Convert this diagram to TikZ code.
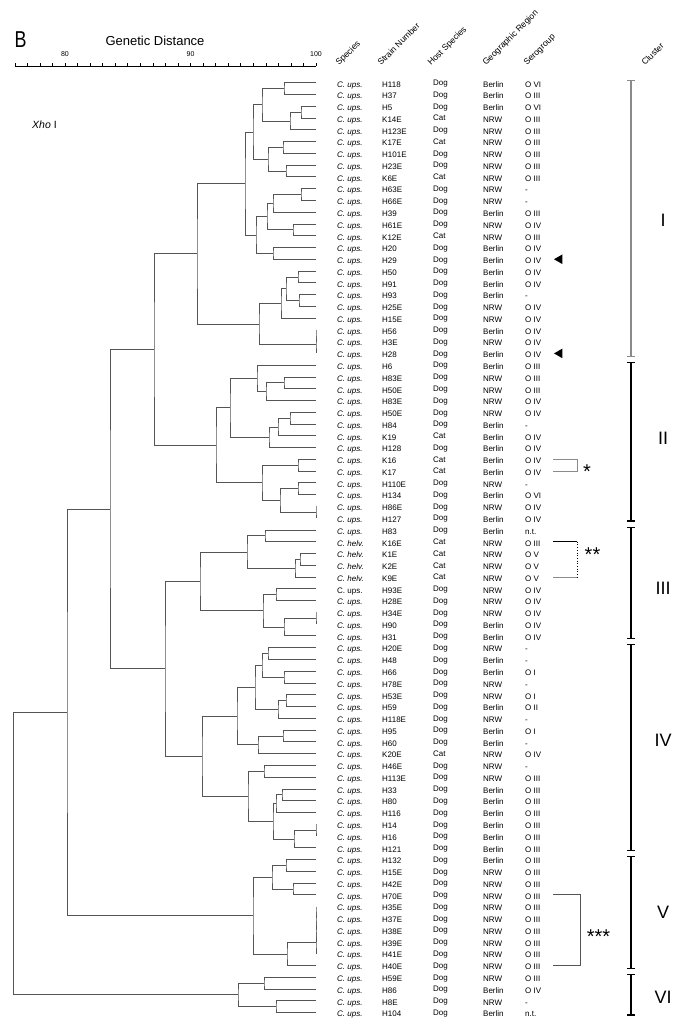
\documentclass[tikz,border=0pt]{standalone}
\usepackage{fontspec}
\setmainfont{Liberation Sans}
\usetikzlibrary{arrows.meta,calc,shapes.geometric}
\definecolor{treegray}{HTML}{555555}
\definecolor{bargray}{HTML}{8A8A8A}

% vertical position of a row (in px)
\newcommand\rowy[1]{82.7+(#1-1)*11.77}
\newcommand\cu{\textit{C. ups.}}
\newcommand\cuup{C. ups.}
\newcommand\ch{\textit{C. helv.}}

% join two children at distance x
\newcommand\clade[4]{%
  \path let \p1=($(#3)!0.5!(#4)$), \p2=(#2,0) in (\x2,\y1) coordinate (#1);
  \draw[branch] (#3) -| (#1) |- (#4);
}

\begin{document}
\begin{tikzpicture}[
    x=1pt, y=-1pt,
    branch/.style={line width=0.8pt, treegray},
    axis/.style={line width=0.9pt, black},
    tick/.style={line width=0.6pt, black},
    cell/.style={anchor=base west, inner sep=0pt, font=\fontsize{8}{9}\selectfont},
    head/.style={anchor=base west, inner sep=0pt, rotate=45, font=\fontsize{8.6}{10}\selectfont},
    numlbl/.style={inner sep=0pt, font=\fontsize{7}{8}\selectfont},
    clbar/.style={line width=1.1pt, {Bar[width=8pt]}-{Bar[width=8pt]}},
    cllbl/.style={inner sep=0pt, font=\fontsize{18}{20}\selectfont},
    brk/.style={line width=0.7pt, bargray},
    stars/.style={anchor=base, inner sep=0pt, font=\fontsize{20}{22}\selectfont},
    tri/.style={regular polygon, regular polygon sides=3, shape border rotate=90,
      fill=black, inner sep=0pt, minimum size=11pt}
  ]
  \useasboundingbox (0,0) rectangle (682,1028);

  % Title and scale
  \node[inner sep=0pt, xscale=0.78, font=\fontsize{23}{25}\selectfont] (panel) at (20.5,40) {B};
  \node[inner sep=0pt, font=\fontsize{13}{15}\selectfont] (gd) at (155,41) {Genetic Distance};
  \coordinate (ax0) at (14.8,66);
  \coordinate (ax1) at (316,66);
  \draw[axis] (ax0) -- (ax1);
  \foreach \d in {76,...,100}
    \draw[tick] ({316-(100-\d)*12.55},66) -- ++(0,-3.5);
  \foreach \d in {80,90,100}
    \node[numlbl] (num\d) at ({316-(100-\d)*12.55},54) {\d};
  \node[anchor=west, inner sep=0pt, font=\fontsize{10.5}{12}\selectfont] (enz) at (32,125) {\textit{Xho} I};

  % Column heads
  \node[head] (hsp) at (339,66) {Species};
  \node[head] (hsn) at (381,66) {Strain Number};
  \node[head] (hhs) at (431,66) {Host Species};
  \node[head] (hgr) at (486,66) {Geographic Region};
  \node[head] (hsg) at (527,66) {Serogroup};
  \node[head] (hcl) at (645,66) {Cluster};

  % Leaves
  \foreach \i in {1,...,80}
    \coordinate (L\i) at (316,{\rowy{\i}});

  % Table
  \foreach \spec/\strain/\host/\region/\sero [count=\i] in {
    \cu/H118/Dog/Berlin/O VI, \cu/H37/Dog/Berlin/O III, \cu/H5/Dog/Berlin/O VI,
    \cu/K14E/Cat/NRW/O III, \cu/H123E/Dog/NRW/O III, \cu/K17E/Cat/NRW/O III,
    \cu/H101E/Dog/NRW/O III, \cu/H23E/Dog/NRW/O III, \cu/K6E/Cat/NRW/O III,
    \cu/H63E/Dog/NRW/-, \cu/H66E/Dog/NRW/-, \cu/H39/Dog/Berlin/O III,
    \cu/H61E/Dog/NRW/O IV, \cu/K12E/Cat/NRW/O III, \cu/H20/Dog/Berlin/O IV,
    \cu/H29/Dog/Berlin/O IV, \cu/H50/Dog/Berlin/O IV, \cu/H91/Dog/Berlin/O IV,
    \cu/H93/Dog/Berlin/-, \cu/H25E/Dog/NRW/O IV, \cu/H15E/Dog/NRW/O IV,
    \cu/H56/Dog/Berlin/O IV, \cu/H3E/Dog/NRW/O IV, \cu/H28/Dog/Berlin/O IV,
    \cu/H6/Dog/Berlin/O III, \cu/H83E/Dog/NRW/O III, \cu/H50E/Dog/NRW/O III,
    \cu/H83E/Dog/NRW/O IV, \cu/H50E/Dog/NRW/O IV, \cu/H84/Dog/Berlin/-,
    \cu/K19/Cat/Berlin/O IV, \cu/H128/Dog/Berlin/O IV, \cu/K16/Cat/Berlin/O IV,
    \cu/K17/Cat/Berlin/O IV, \cu/H110E/Dog/NRW/-, \cu/H134/Dog/Berlin/O VI,
    \cu/H86E/Dog/NRW/O IV, \cu/H127/Dog/Berlin/O IV, \cu/H83/Dog/Berlin/n.t.,
    \ch/K16E/Cat/NRW/O III, \ch/K1E/Cat/NRW/O V, \ch/K2E/Cat/NRW/O V,
    \ch/K9E/Cat/NRW/O V, \cuup/H93E/Dog/NRW/O IV, \cu/H28E/Dog/NRW/O IV,
    \cu/H34E/Dog/NRW/O IV, \cu/H90/Dog/Berlin/O IV, \cu/H31/Dog/Berlin/O IV,
    \cu/H20E/Dog/NRW/-, \cu/H48/Dog/Berlin/-, \cu/H66/Dog/Berlin/O I,
    \cu/H78E/Dog/NRW/-, \cu/H53E/Dog/NRW/O I, \cu/H59/Dog/Berlin/O II,
    \cu/H118E/Dog/NRW/-, \cu/H95/Dog/Berlin/O I, \cu/H60/Dog/Berlin/-,
    \cu/K20E/Cat/NRW/O IV, \cu/H46E/Dog/NRW/-, \cu/H113E/Dog/NRW/O III,
    \cu/H33/Dog/Berlin/O III, \cu/H80/Dog/Berlin/O III, \cu/H116/Dog/Berlin/O III,
    \cu/H14/Dog/Berlin/O III, \cu/H16/Dog/Berlin/O III, \cu/H121/Dog/Berlin/O III,
    \cu/H132/Dog/Berlin/O III, \cu/H15E/Dog/NRW/O III, \cu/H42E/Dog/NRW/O III,
    \cu/H70E/Dog/NRW/O III, \cu/H35E/Dog/NRW/O III, \cu/H37E/Dog/NRW/O III,
    \cu/H38E/Dog/NRW/O III, \cu/H39E/Dog/NRW/O III, \cu/H41E/Dog/NRW/O III,
    \cu/H40E/Dog/NRW/O III, \cu/H59E/Dog/NRW/O III, \cu/H86/Dog/Berlin/O IV,
    \cu/H8E/Dog/NRW/-, \cu/H104/Dog/Berlin/n.t.} {
    \node[cell] (sp\i) at (337,{\rowy{\i}+4.3}) {\spec};
    \node[cell] (sn\i) at (382,{\rowy{\i}+4.3}) {\strain};
    \node[cell] (hs\i) at (433,{\rowy{\i}+2.8}) {\host};
    \node[cell] (gr\i) at (483,{\rowy{\i}+4.3}) {\region};
    \node[cell] (sg\i) at (525,{\rowy{\i}+4.3}) {\sero};
  }

  % Cluster I
  \clade{a}{284}{L1}{L2}
  \clade{b}{301}{L3}{L4}
  \clade{c}{290}{b}{L5}
  \clade{d}{262}{a}{c}
  \clade{e}{283}{L6}{L7}
  \clade{f}{286}{L8}{L9}
  \clade{g}{268}{e}{f}
  \clade{h}{253}{d}{g}
  \clade{i}{301}{L10}{L11}
  \clade{j}{273}{i}{L12}
  \clade{k}{293}{L13}{L14}
  \clade{l}{267}{j}{k}
  \clade{m}{273}{L15}{L16}
  \clade{n}{256}{l}{m}
  \clade{o}{245}{h}{n}
  \clade{q}{298}{L17}{L18}
  \clade{r}{299}{L19}{L20}
  \clade{s}{286}{q}{r}
  \clade{t}{281}{s}{L21}
  \clade{pa}{316}{L22}{L23}
  \clade{pb}{316}{pa}{L24}
  \clade{u}{259}{t}{pb}
  \clade{p}{197}{o}{u}

  % Cluster II
  \clade{y3}{284}{L26}{L27}
  \clade{y2}{266}{y3}{L28}
  \clade{y1}{257}{L25}{y2}
  \clade{z3}{290}{L29}{L30}
  \clade{z2}{278}{z3}{L31}
  \clade{z1}{269}{z2}{L32}
  \clade{x1}{230}{y1}{z1}
  \clade{aa}{298}{L33}{L34}
  \clade{cc}{298}{L35}{L36}
  \clade{dd}{316}{L37}{L38}
  \clade{bb}{280}{cc}{dd}
  \clade{x2}{262}{aa}{bb}
  \clade{w}{216}{x1}{x2}
  \clade{v}{154}{p}{w}

  % Cluster III
  \clade{gg}{265}{L39}{L40}
  \clade{jj}{300}{L41}{L42}
  \clade{ii}{295}{jj}{L43}
  \clade{hh}{247}{gg}{ii}
  \clade{mm}{276}{L44}{L45}
  \clade{oo}{316}{L46}{L47}
  \clade{nn}{284}{oo}{L48}
  \clade{ll}{263}{mm}{nn}
  \clade{kk}{200}{hh}{ll}

  % Cluster IV
  \clade{uu}{268}{L49}{L50}
  \clade{vv}{284}{L51}{L52}
  \clade{tt}{262}{uu}{vv}
  \clade{xx}{286}{L53}{L54}
  \clade{ww}{278}{xx}{L55}
  \clade{ss}{255}{tt}{ww}
  \clade{zz}{283}{L56}{L57}
  \clade{yy}{258}{zz}{L58}
  \clade{rr}{237}{ss}{yy}
  \clade{ba}{264}{L59}{L60}
  \clade{ae}{282}{L61}{L62}
  \clade{ad}{276}{ae}{L63}
  \clade{bc}{316}{L64}{L65}
  \clade{af}{294}{bc}{L66}
  \clade{ac}{273}{ad}{af}
  \clade{ab}{248}{ba}{ac}
  \clade{qq}{202}{rr}{ab}
  \clade{pp}{165}{kk}{qq}
  \clade{ee}{110}{v}{pp}

  % Cluster V
  \clade{aj}{286}{L67}{L68}
  \clade{ak}{293}{L69}{L70}
  \clade{ai}{272}{aj}{ak}
  \clade{pc}{316}{L71}{L72}
  \clade{pd}{316}{pc}{L73}
  \clade{pe}{316}{pd}{L74}
  \clade{pf}{316}{pe}{L75}
  \clade{al}{287}{pf}{L76}
  \clade{ah}{253}{ai}{al}
  \clade{ag}{67}{ee}{ah}

  % Cluster VI and root
  \clade{an}{264}{L77}{L78}
  \clade{ao}{276}{L79}{L80}
  \clade{am}{238}{an}{ao}
  \clade{root}{13.5}{ag}{am}

  % Marked strains
  \node[tri] (arr16) at (559.5,{\rowy{16}}) {};
  \node[tri] (arr24) at (559.5,{\rowy{24}}) {};

  \coordinate (s1) at (553,{\rowy{33}});
  \coordinate (s2) at (553,{\rowy{34}});
  \draw[brk] (s1) -- ++(24,0) |- (s2);
  \node[stars] (st1) at (587,478) {*};

  \coordinate (h1) at (553,{\rowy{40}});
  \coordinate (h2) at (553,{\rowy{43}});
  \draw[brk, black] (h1) -- ++(24,0) coordinate (h1r);
  \draw[brk, black, dotted] (h1r) -- (h1r |- h2);
  \draw[brk] (h2) -- ++(24,0);
  \node[stars] (st2) at (592.5,561.5) {**};

  \coordinate (t1) at (553,{\rowy{70}});
  \coordinate (t2) at (553,{\rowy{76}});
  \draw[brk, treegray] (t1) -- ++(27,0) |- (t2);
  \node[stars] (st3) at (598.5,943.5) {***};

  % Clusters
  \foreach \name/\top/\bot/\ly/\col in {I/79.7/356.8/220/bargray, II/361.8/521.5/438/black,
      III/526.5/639.3/588/black, IV/644.3/851.1/740/black, V/856.1/968.8/912/black,
      VI/973.8/1015.5/997/black} {
    \draw[clbar, \col] (631,\top) coordinate (\name t) -- (631,\bot) coordinate (\name b);
    \node[cllbl] (cl\name) at (663,\ly) {\name};
  }
\end{tikzpicture}
\end{document}
